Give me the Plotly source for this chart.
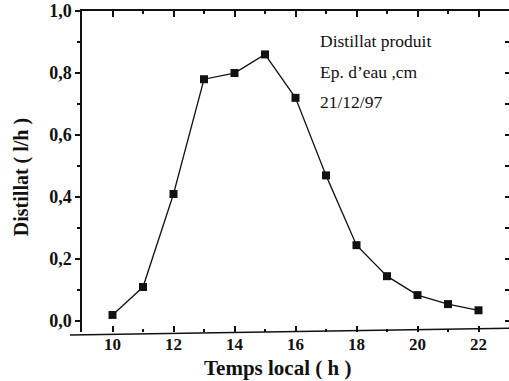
import plotly.graph_objects as go

# Hourly distillate production (l/h), 21/12/97
hours = [10, 11, 12, 13, 14, 15, 16, 17, 18, 19, 20, 21, 22]
distillat = [0.02, 0.11, 0.41, 0.78, 0.80, 0.86, 0.72, 0.47, 0.245, 0.145, 0.084, 0.055, 0.035]

x_ticks = [10, 12, 14, 16, 18, 20, 22]
y_ticks = [0.0, 0.2, 0.4, 0.6, 0.8, 1.0]
notes = ["Distillat produit", "Ep. d\u2019eau ,cm", "21/12/97"]
x_title = "Temps local ( h )"
y_title = "Distillat ( l/h )"

SERIF = "Liberation Serif"
X_RANGE = [9, 23]
Y_RANGE = [-0.035, 1.0]

fig = go.Figure()
fig.add_trace(go.Scatter(
    x=hours, y=distillat, mode="lines+markers",
    line=dict(color="#111", width=1.3),
    marker=dict(symbol="square", size=8, color="#111"),
    showlegend=False,
))
# invisible trace to activate the mirrored top / right axes
fig.add_trace(go.Scatter(x=[hours[0]], y=[distillat[0]], xaxis="x2", yaxis="y2",
                         mode="markers", marker=dict(opacity=0), showlegend=False,
                         hoverinfo="skip"))

fig.update_layout(
    width=509, height=381,
    margin=dict(l=82, r=0, t=11, b=49),
    paper_bgcolor="white", plot_bgcolor="white",
    separators=", ",
    font=dict(family=SERIF, color="#111"),
    xaxis=dict(
        range=X_RANGE, tickvals=x_ticks, ticks="inside", ticklen=6, tickwidth=1.5,
        tickcolor="#111", showline=False, showgrid=False, zeroline=False,
        minor=dict(dtick=1, tick0=0, ticks="inside", ticklen=3, tickcolor="#111", tickwidth=1.5),
        tickfont=dict(family=SERIF, size=17, weight="bold"),
    ),
    xaxis2=dict(
        range=X_RANGE, overlaying="x", side="top", tickvals=x_ticks, ticks="inside",
        ticklen=6, tickwidth=1.5, tickcolor="#111", showticklabels=False,
        showline=True, linecolor="#111", linewidth=1.5, showgrid=False, zeroline=False,
        minor=dict(dtick=1, tick0=0, ticks="inside", ticklen=3, tickcolor="#111", tickwidth=1.5),
    ),
    yaxis=dict(
        range=Y_RANGE, tickvals=y_ticks, tickformat=".1f", ticks="outside", ticklen=5,
        tickwidth=1.5, tickcolor="#111", showline=True, linecolor="#111", linewidth=1.5,
        showgrid=False, zeroline=False, ticklabelstandoff=0,
        minor=dict(dtick=0.1, tick0=0, ticks="outside", ticklen=3, tickcolor="#111", tickwidth=1.5),
        tickfont=dict(family=SERIF, size=18, weight="bold"),
    ),
    yaxis2=dict(
        range=Y_RANGE, overlaying="y", side="right", tickvals=[0.1 * i for i in range(11)],
        ticks="inside", ticklen=4, tickwidth=1.5, tickcolor="#111", showticklabels=False,
        showline=True, linecolor="#111", linewidth=1.5, showgrid=False, zeroline=False,
    ),
)

# bottom frame line, extending slightly past the left axis
fig.add_shape(type="line", xref="paper", yref="paper",
              x0=-0.028, y0=-0.009, x1=1.0, y1=0.012,
              line=dict(color="#111", width=1.5))

# axis titles
fig.add_annotation(x=0.457, y=-0.112, xref="paper", yref="paper", text=x_title,
                   showarrow=False, xanchor="center", yanchor="middle",
                   font=dict(family=SERIF, size=21, weight="bold"))
fig.add_annotation(x=-0.14, y=0.483, xref="paper", yref="paper", text=y_title,
                   textangle=-90, showarrow=False, xanchor="center", yanchor="middle",
                   font=dict(family=SERIF, size=20, weight="bold"))

for i, txt in enumerate(notes):
    fig.add_annotation(x=0.552, y=0.905 - i * 0.095, xref="paper", yref="paper",
                       text=txt, showarrow=False, xanchor="left", yanchor="middle",
                       font=dict(family=SERIF, size=17.5, color="#111"))

fig.write_html("out.html")
